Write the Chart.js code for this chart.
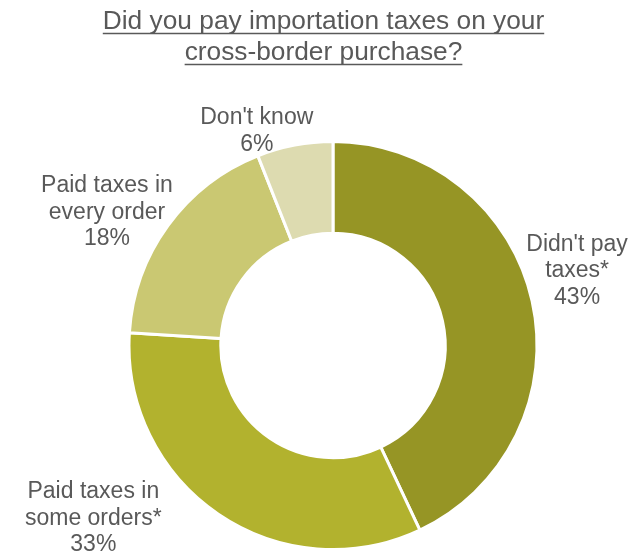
<!DOCTYPE html>
<html>
<head>
<meta charset="utf-8">
<script src="https://cdn.jsdelivr.net/npm/chart.js@4.4.0/dist/chart.umd.min.js"></script>
<style>
  body { margin: 0; background: #fff; }
  #wrap { width: 644px; height: 551px; }
</style>
</head>
<body>
<div id="wrap"><canvas id="myChart" width="644" height="551"></canvas></div>
<script>
const titleLines = ['Did you pay importation taxes on your', 'cross-border purchase?'];
const categories = [
    ["Didn't pay", 'taxes*'],
    ['Paid taxes in', 'some orders*'],
    ['Paid taxes in', 'every order'],
    ["Don't know"],
];
const shares = [43, 33, 18, 6];
const sliceColors = ['#969525', '#B2B22E', '#CAC872', '#DDDBB0'];

// where each label block sits, relative to the outer edge at the slice's middle
const labelOffsets = [[45, -30], [-125, 4], [-61, -13], [-38, -14]];

const textColor = '#595959';

const titlePlugin = {
    id: 'underlinedTitle',
    afterDraw(chart) {
        const ctx = chart.ctx;
        ctx.save();
        ctx.font = '26.3px "Liberation Sans", Arial, sans-serif';
        ctx.fillStyle = textColor;
        ctx.strokeStyle = textColor;
        ctx.textAlign = 'center';
        ctx.textBaseline = 'alphabetic';
        ctx.lineWidth = 1.6;
        titleLines.forEach((line, i) => {
            const y = 29 + i * 31;
            ctx.fillText(line, 323.5, y);
            const w = ctx.measureText(line).width;
            ctx.beginPath();
            ctx.moveTo(323.5 - w / 2, y + 4.5);
            ctx.lineTo(323.5 + w / 2, y + 4.5);
            ctx.stroke();
        });
        ctx.restore();
    }
};

const sliceLabels = {
    id: 'sliceLabels',
    afterDatasetsDraw(chart) {
        const ctx = chart.ctx;
        const meta = chart.getDatasetMeta(0);
        ctx.save();
        ctx.font = '23px "Liberation Sans", Arial, sans-serif';
        ctx.fillStyle = textColor;
        ctx.textAlign = 'center';
        ctx.textBaseline = 'middle';
        meta.data.forEach((arc, i) => {
            const p = arc.getProps(['x', 'y', 'startAngle', 'endAngle', 'outerRadius'], true);
            const mid = (p.startAngle + p.endAngle) / 2;
            const ax = p.x + Math.cos(mid) * p.outerRadius;
            const ay = p.y + Math.sin(mid) * p.outerRadius;
            const lines = categories[i].concat([chart.data.datasets[0].data[i] + '%']);
            const lh = 26.5;
            const cx = ax + labelOffsets[i][0];
            const cy = ay + labelOffsets[i][1];
            lines.forEach((t, j) => {
                ctx.fillText(t, cx, cy + (j - (lines.length - 1) / 2) * lh);
            });
        });
        ctx.restore();
    }
};

const ctx = document.getElementById('myChart').getContext('2d');
const myChart = new Chart(ctx, {
    type: 'doughnut',
    data: {
        labels: categories.map(c => c.join(' ')),
        datasets: [{
            data: shares,
            backgroundColor: sliceColors,
            borderColor: '#ffffff',
            borderWidth: 3,
        }]
    },
    options: {
        responsive: false,
        animation: false,
        cutout: '55%',
        layout: {
            padding: { left: 127.5, right: 105.5, top: 140, bottom: 0 }
        },
        plugins: {
            legend: { display: false },
            title: { display: false },
            tooltip: { enabled: false },
        },
    },
    plugins: [titlePlugin, sliceLabels],
});
</script>
</body>
</html>
